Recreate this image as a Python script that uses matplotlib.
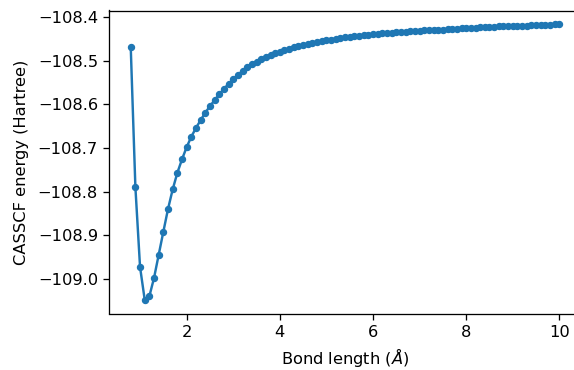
import numpy as np
import matplotlib
matplotlib.use("Agg")
import matplotlib.pyplot as plt

# Bond lengths (Å): 0.8 to 10.0 in steps of 0.1
bond_length = np.round(np.linspace(0.8, 10.0, 93), 1)

energy = [
    -108.468, -108.790, -108.973, -109.048, -109.040, -108.998, -108.945, -108.892,
    -108.840, -108.795, -108.757, -108.726,
    -108.698, -108.674, -108.654, -108.636, -108.619, -108.604, -108.590, -108.577,
    -108.564, -108.553,
    -108.542, -108.532, -108.523, -108.515, -108.508, -108.502, -108.496, -108.491,
    -108.487, -108.483,
    -108.479, -108.475, -108.472, -108.469, -108.466, -108.463, -108.461, -108.459,
    -108.457, -108.455,
    -108.453, -108.451, -108.449, -108.448, -108.446, -108.445, -108.443, -108.442,
    -108.441, -108.440,
    -108.439, -108.438, -108.437, -108.436, -108.435, -108.434, -108.434, -108.433,
    -108.432, -108.431,
    -108.431, -108.430, -108.429, -108.429, -108.428, -108.428, -108.427, -108.427,
    -108.426, -108.425,
    -108.425, -108.424, -108.424, -108.423, -108.423, -108.422, -108.422, -108.421,
    -108.421, -108.420,
    -108.420, -108.420, -108.419, -108.419, -108.418, -108.418, -108.418, -108.417,
    -108.417, -108.416,
    -108.416,
]

s = 1.17
plt.rcParams.update({
    'font.size': 10 * s,
    'xtick.major.size': 3.5 * s,
    'ytick.major.size': 3.5 * s,
    'xtick.major.width': 0.8 * s,
    'ytick.major.width': 0.8 * s,
    'axes.linewidth': 0.8 * s,
    'xtick.major.pad': 3.5 * s,
    'ytick.major.pad': 3.5 * s,
    'axes.labelpad': 4.0 * s,
})

W, H = 574, 370
fig = plt.figure(figsize=(W / 100, H / 100), dpi=100)
left_px, right_px, top_px, bottom_px = 109.3, 580.8, 10.5, 313.5
ax = fig.add_axes([left_px / W, 1 - bottom_px / H,
                   (right_px - left_px) / W, (bottom_px - top_px) / H])

ax.plot(bond_length, energy, marker='o', markersize=4.3, color='#1f77b4', linewidth=1.75)
ax.set_xlabel(r'Bond length ($\AA$)')
ax.set_ylabel('CASSCF energy (Hartree)', labelpad=6.5)
ax.set_xticks([2, 4, 6, 8, 10])

fig.savefig('out.png', dpi=100)
